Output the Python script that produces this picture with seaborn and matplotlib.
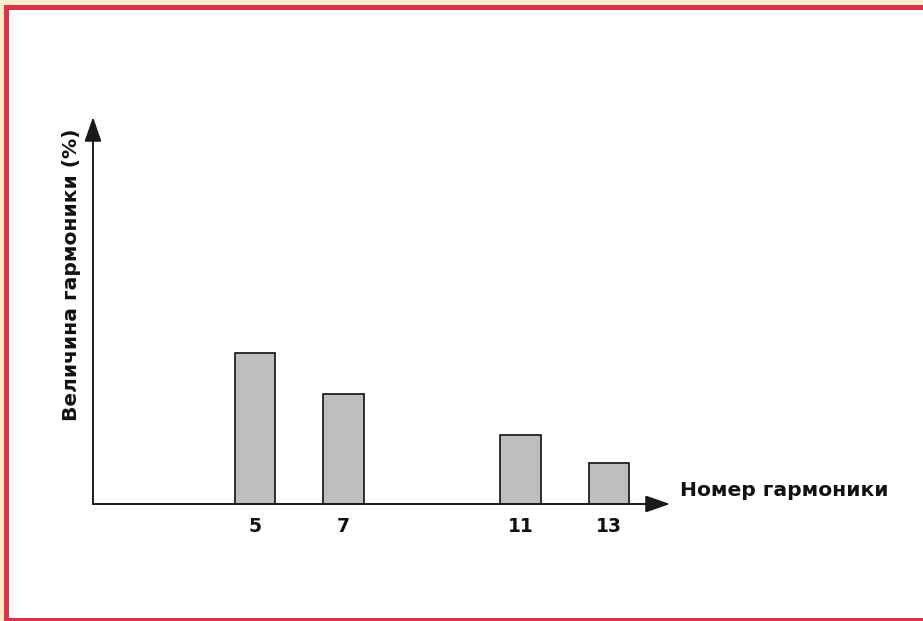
import matplotlib
matplotlib.use("Agg")
import matplotlib.pyplot as plt
from matplotlib.patches import Rectangle
import seaborn as sns

# Harmonic spectrum (relative magnitude, %)
harmonics = [5, 7, 11, 13]
magnitudes = [19.5, 14.2, 8.9, 5.3]
tick_labels = ["5", "7", "11", "13"]
x_label = "Номер гармоники"
y_label = "Величина гармоники (%)"

sns.set_style("white")
plt.rcParams["font.family"] = ["DejaVu Sans"]

W, H = 923, 621
fig = plt.figure(figsize=(W / 100, H / 100), dpi=100, facecolor="white")

# frame: cream edge, red band on top/left/bottom
def px_rect(x0, y0, x1, y1, color):
    fig.patches.append(Rectangle((x0 / W, 1 - y1 / H), (x1 - x0) / W, (y1 - y0) / H,
                                 transform=fig.transFigure, color=color, lw=0, zorder=0))

cream, red = "#FDEBCC", "#D9344A"
px_rect(0, 0, W, 5, cream)
px_rect(0, 0, 4, H, cream)
px_rect(4, 5, W, 10, red)
px_rect(4, 5, 9, H, red)
px_rect(4, 618, W, H, red)

ax_l, ax_r, ax_t, ax_b = 93, 670, 117, 504
ax = fig.add_axes([ax_l / W, 1 - ax_b / H, (ax_r - ax_l) / W, (ax_b - ax_t) / H])
ax.set_facecolor("none")

sns.barplot(x=harmonics, y=magnitudes, native_scale=True, width=0.463,
            color="#BDBEC0", saturation=1, edgecolor="#111111", linewidth=1.2,
            errorbar=None, ax=ax)

# data-space extent of the axes box
x0 = (ax_l - 33.75) / 44.25
x1 = (ax_r - 33.75) / 44.25
ax.set_xlim(x0, x1)
ax.set_ylim(0, 50)
for s in ax.spines.values():
    s.set_visible(False)

ax.set_xticks(harmonics, labels=tick_labels)
ax.set_yticks([])
ax.tick_params(axis="x", length=0, pad=9, labelsize=13.5, labelcolor="#111111")
for t in ax.get_xticklabels():
    t.set_fontweight("bold")
ax.set_xlabel("")
ax.set_ylabel("")

# axis arrows
arrow = dict(arrowstyle="-|>,head_length=0.75,head_width=0.26", color="#1a1a1a",
             lw=1.4, mutation_scale=20, shrinkA=0, shrinkB=0)
ax.annotate("", xy=(1, 0), xytext=(0, 0), xycoords="axes fraction",
            textcoords="axes fraction", arrowprops=arrow, annotation_clip=False)
ax.annotate("", xy=(0, 1), xytext=(0, 0), xycoords="axes fraction",
            textcoords="axes fraction", arrowprops=arrow, annotation_clip=False)

ax.text((680 - ax_l) / (ax_r - ax_l), (ax_b - 490) / (ax_b - ax_t), x_label,
        transform=ax.transAxes, ha="left", va="center", fontsize=14.6,
        fontweight="bold", color="#111111")
ax.text((72 - ax_l) / (ax_r - ax_l), (ax_b - 275) / (ax_b - ax_t), y_label,
        transform=ax.transAxes, ha="center", va="center", rotation=90,
        fontsize=14.6, fontweight="bold", color="#111111")

fig.savefig("out.png", dpi=100, facecolor=fig.get_facecolor())
